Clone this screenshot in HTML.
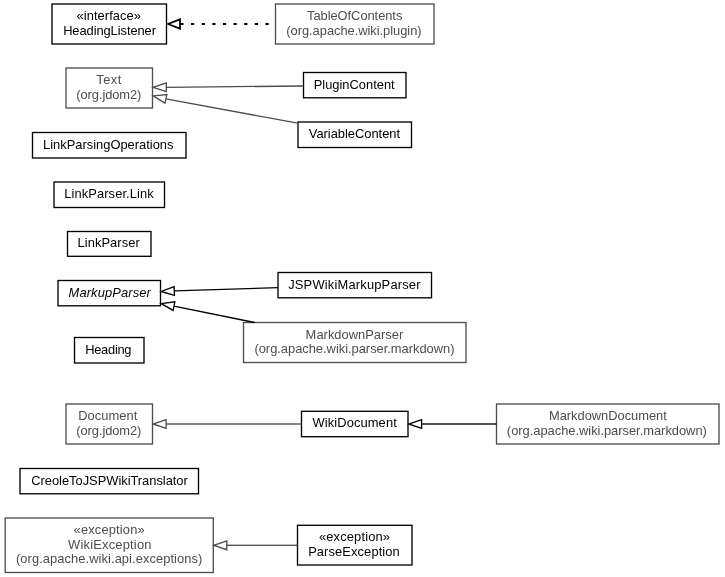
<!DOCTYPE html>
<html><head><meta charset="utf-8"><title>Class diagram</title>
<style>
html,body{margin:0;padding:0;background:#fff;}
svg{display:block;will-change:transform;}
text{font-family:"Liberation Sans",sans-serif;font-size:12.9px;text-anchor:middle;}
</style></head><body>
<svg width="725" height="577" viewBox="0 0 725 577">
<rect width="725" height="577" fill="#fff"/>
<rect x="52.0" y="4.0" width="114.50" height="40.00" fill="#fff" stroke="#000" stroke-width="1.33"/>
<text x="108.75" y="20.00" fill="#000" textLength="64.44" lengthAdjust="spacing">«interface»</text>
<text x="109.55" y="35.00" fill="#000" textLength="92.82" lengthAdjust="spacing">HeadingListener</text>
<rect x="66.0" y="68.0" width="86.50" height="40.00" fill="#fff" stroke="#4d4d4d" stroke-width="1.33"/>
<text x="108.75" y="84.00" fill="#4d4d4d" textLength="24.97" lengthAdjust="spacing">Text</text>
<text x="108.85" y="99.00" fill="#4d4d4d" textLength="65.04" lengthAdjust="spacing">(org.jdom2)</text>
<rect x="32.5" y="132.5" width="153.50" height="25.50" fill="#fff" stroke="#000" stroke-width="1.33"/>
<text x="108.25" y="149.00" fill="#000" textLength="130.42" lengthAdjust="spacing">LinkParsingOperations</text>
<rect x="54.0" y="182.0" width="110.50" height="25.50" fill="#fff" stroke="#000" stroke-width="1.33"/>
<text x="108.95" y="198.00" fill="#000" textLength="89.64" lengthAdjust="spacing">LinkParser.Link</text>
<rect x="67.5" y="231.5" width="83.50" height="24.80" fill="#fff" stroke="#000" stroke-width="1.33"/>
<text x="108.65" y="247.00" fill="#000" textLength="62.07" lengthAdjust="spacing">LinkParser</text>
<rect x="58.0" y="280.5" width="102.50" height="25.30" fill="#fff" stroke="#000" stroke-width="1.33"/>
<text x="109.65" y="297.00" fill="#000" font-style="italic" textLength="82.26" lengthAdjust="spacing">MarkupParser</text>
<rect x="74.5" y="337.5" width="69.50" height="25.50" fill="#fff" stroke="#000" stroke-width="1.33"/>
<text x="108.35" y="354.00" fill="#000" textLength="46.39" lengthAdjust="spacing">Heading</text>
<rect x="66.0" y="404.0" width="86.50" height="40.00" fill="#fff" stroke="#4d4d4d" stroke-width="1.33"/>
<text x="107.75" y="420.00" fill="#4d4d4d" textLength="58.99" lengthAdjust="spacing">Document</text>
<text x="108.85" y="435.00" fill="#4d4d4d" textLength="65.04" lengthAdjust="spacing">(org.jdom2)</text>
<rect x="20.0" y="468.5" width="178.50" height="25.30" fill="#fff" stroke="#000" stroke-width="1.33"/>
<text x="109.55" y="485.00" fill="#000" textLength="156.50" lengthAdjust="spacing">CreoleToJSPWikiTranslator</text>
<rect x="5.2" y="518.0" width="208.10" height="54.50" fill="#fff" stroke="#4d4d4d" stroke-width="1.33"/>
<text x="109.15" y="534.00" fill="#4d4d4d" textLength="71.07" lengthAdjust="spacing">«exception»</text>
<text x="109.75" y="549.00" fill="#4d4d4d" textLength="83.34" lengthAdjust="spacing">WikiException</text>
<text x="109.15" y="563.00" fill="#4d4d4d" textLength="186.42" lengthAdjust="spacing">(org.apache.wiki.api.exceptions)</text>
<rect x="275.5" y="4.0" width="158.50" height="40.00" fill="#fff" stroke="#4d4d4d" stroke-width="1.33"/>
<text x="354.71" y="20.00" fill="#4d4d4d" textLength="95.28" lengthAdjust="spacing">TableOfContents</text>
<text x="353.95" y="35.00" fill="#4d4d4d" textLength="135.30" lengthAdjust="spacing">(org.apache.wiki.plugin)</text>
<rect x="303.5" y="72.5" width="102.50" height="25.30" fill="#fff" stroke="#000" stroke-width="1.33"/>
<text x="354.15" y="89.00" fill="#000" textLength="80.98" lengthAdjust="spacing">PluginContent</text>
<rect x="298.0" y="122.0" width="113.50" height="25.50" fill="#fff" stroke="#000" stroke-width="1.33"/>
<text x="354.45" y="138.00" fill="#000" textLength="91.29" lengthAdjust="spacing">VariableContent</text>
<rect x="278.0" y="272.5" width="153.50" height="25.30" fill="#fff" stroke="#000" stroke-width="1.33"/>
<text x="354.35" y="289.00" fill="#000" textLength="132.32" lengthAdjust="spacing">JSPWikiMarkupParser</text>
<rect x="243.5" y="322.5" width="222.50" height="40.00" fill="#fff" stroke="#4d4d4d" stroke-width="1.33"/>
<text x="354.45" y="339.00" fill="#4d4d4d" textLength="97.66" lengthAdjust="spacing">MarkdownParser</text>
<text x="354.45" y="353.00" fill="#4d4d4d" textLength="199.99" lengthAdjust="spacing">(org.apache.wiki.parser.markdown)</text>
<rect x="301.5" y="411.3" width="106.50" height="25.40" fill="#fff" stroke="#000" stroke-width="1.33"/>
<text x="354.65" y="427.00" fill="#000" textLength="84.18" lengthAdjust="spacing">WikiDocument</text>
<rect x="297.5" y="525.3" width="114.50" height="39.70" fill="#fff" stroke="#000" stroke-width="1.33"/>
<text x="354.45" y="541.00" fill="#000" textLength="71.07" lengthAdjust="spacing">«exception»</text>
<text x="353.95" y="556.00" fill="#000" textLength="91.59" lengthAdjust="spacing">ParseException</text>
<rect x="496.5" y="404.0" width="222.50" height="40.00" fill="#fff" stroke="#4d4d4d" stroke-width="1.33"/>
<text x="607.91" y="420.00" fill="#4d4d4d" textLength="117.90" lengthAdjust="spacing">MarkdownDocument</text>
<text x="606.85" y="435.00" fill="#4d4d4d" textLength="199.99" lengthAdjust="spacing">(org.apache.wiki.parser.markdown)</text>
<line x1="180.4" y1="24" x2="270" y2="24" stroke="#000" stroke-width="2" stroke-dasharray="3.2 7.43"/>
<polygon points="168.0,24 180.00,28.60 180.00,19.40" fill="#fff" stroke="#000" stroke-width="1.8" stroke-linejoin="miter"/>
<line x1="166.3" y1="87.3" x2="303.5" y2="86.0" stroke="#4d4d4d" stroke-width="1.33"/>
<polygon points="153.2,87.35 166.32,91.70 166.28,82.90" fill="#fff" stroke="#4d4d4d" stroke-width="1.33" stroke-linejoin="miter"/>
<line x1="165.9" y1="98.85" x2="297.7" y2="123.2" stroke="#4d4d4d" stroke-width="1.33"/>
<polygon points="153.2,95.9 164.90,103.14 166.90,94.56" fill="#fff" stroke="#4d4d4d" stroke-width="1.33" stroke-linejoin="miter"/>
<line x1="174.3" y1="290.9" x2="278" y2="287.7" stroke="#000" stroke-width="1.33"/>
<polygon points="161.2,291.5 174.47,295.40 174.13,286.60" fill="#fff" stroke="#000" stroke-width="1.33" stroke-linejoin="miter"/>
<line x1="174.0" y1="306.1" x2="254.6" y2="322.5" stroke="#000" stroke-width="1.33"/>
<polygon points="161.2,303.6 173.16,310.42 174.84,301.78" fill="#fff" stroke="#000" stroke-width="1.33" stroke-linejoin="miter"/>
<rect x="166.1" y="423.335" width="135.40" height="1.33" fill="#4d4d4d"/>
<polygon points="153.2,424 166.10,428.40 166.10,419.60" fill="#fff" stroke="#4d4d4d" stroke-width="1.33" stroke-linejoin="miter"/>
<rect x="421.6" y="423.335" width="74.90" height="1.33" fill="#000"/>
<polygon points="408.8,424 421.60,428.40 421.60,419.60" fill="#fff" stroke="#000" stroke-width="1.33" stroke-linejoin="miter"/>
<rect x="226.8" y="544.635" width="70.70" height="1.33" fill="#4d4d4d"/>
<polygon points="213.9,545.3 226.80,549.70 226.80,540.90" fill="#fff" stroke="#4d4d4d" stroke-width="1.33" stroke-linejoin="miter"/>
</svg>
</body></html>
